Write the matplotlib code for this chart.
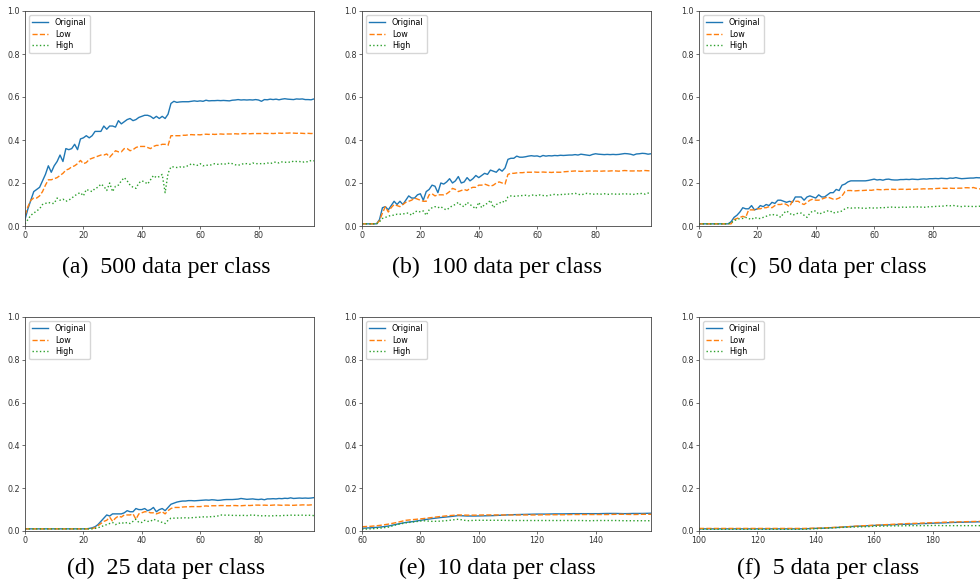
import numpy as np
import matplotlib
matplotlib.use('Agg')
import matplotlib.pyplot as plt

# series names shared by every panel
labels = ['Original', 'Low', 'High']

captions = ['(a)  500 data per class', '(b)  100 data per class', '(c)  50 data per class',
            '(d)  25 data per class', '(e)  10 data per class', '(f)  5 data per class']

# (a) 500 data per class
a_orig = [0.03, 0.08, 0.12, 0.16, 0.17, 0.18, 0.21, 0.24, 0.28, 0.25,
          0.28, 0.30, 0.33, 0.30, 0.36, 0.355, 0.36, 0.38, 0.355, 0.405,
          0.41, 0.42, 0.41, 0.42, 0.44, 0.44, 0.44, 0.465, 0.45, 0.465,
          0.465, 0.46, 0.49, 0.475, 0.485, 0.495, 0.50, 0.49, 0.495, 0.505,
          0.51, 0.515, 0.515, 0.51, 0.50, 0.51, 0.50, 0.51, 0.50, 0.52,
          0.57, 0.58, 0.575, 0.577, 0.578, 0.578, 0.578, 0.58, 0.582, 0.58,
          0.582, 0.58, 0.585, 0.582, 0.583, 0.583, 0.584, 0.583, 0.584, 0.583,
          0.582, 0.585, 0.586, 0.588, 0.586, 0.587, 0.586, 0.587, 0.586, 0.588,
          0.586, 0.58, 0.588, 0.587, 0.59, 0.588, 0.59, 0.587, 0.59, 0.592,
          0.59, 0.589, 0.588, 0.591, 0.59, 0.591, 0.588, 0.588, 0.587, 0.591]
a_low = [0.05, 0.09, 0.12, 0.13, 0.13, 0.14, 0.16, 0.19, 0.215, 0.215,
         0.22, 0.225, 0.235, 0.245, 0.26, 0.265, 0.275, 0.28, 0.29, 0.305,
         0.29, 0.295, 0.31, 0.315, 0.32, 0.325, 0.33, 0.33, 0.335, 0.32,
         0.335, 0.35, 0.345, 0.345, 0.36, 0.36, 0.35, 0.355, 0.365, 0.37,
         0.37, 0.37, 0.365, 0.36, 0.37, 0.375, 0.375, 0.38, 0.38, 0.375,
         0.42, 0.42, 0.42, 0.42, 0.422, 0.422, 0.424, 0.425, 0.424, 0.425,
         0.424, 0.426, 0.427, 0.426, 0.427, 0.426, 0.427, 0.428, 0.427, 0.428,
         0.428, 0.428, 0.429, 0.428, 0.429, 0.43, 0.43, 0.429, 0.43, 0.43,
         0.43, 0.43, 0.431, 0.43, 0.431, 0.43, 0.431, 0.432, 0.431, 0.432,
         0.432, 0.433, 0.432, 0.431, 0.432, 0.431, 0.43, 0.431, 0.43, 0.431]
a_high = [0.01, 0.03, 0.05, 0.06, 0.07, 0.08, 0.10, 0.105, 0.11, 0.105,
          0.105, 0.13, 0.12, 0.125, 0.115, 0.12, 0.13, 0.14, 0.15, 0.155,
          0.14, 0.17, 0.165, 0.16, 0.175, 0.18, 0.195, 0.185, 0.165, 0.20,
          0.16, 0.185, 0.19, 0.21, 0.225, 0.21, 0.19, 0.18, 0.175, 0.20,
          0.21, 0.205, 0.195, 0.215, 0.235, 0.225, 0.23, 0.24, 0.155, 0.245,
          0.275, 0.275, 0.272, 0.275, 0.272, 0.278, 0.28, 0.29, 0.285, 0.282,
          0.29, 0.28, 0.283, 0.282, 0.285, 0.29, 0.287, 0.288, 0.29, 0.287,
          0.293, 0.29, 0.285, 0.282, 0.287, 0.29, 0.29, 0.287, 0.293, 0.29,
          0.29, 0.29, 0.29, 0.293, 0.29, 0.295, 0.298, 0.293, 0.298, 0.296,
          0.298, 0.296, 0.302, 0.30, 0.30, 0.296, 0.30, 0.298, 0.305, 0.303]

# (b) 100 data per class
b_orig = [0.01, 0.01, 0.01, 0.01, 0.01, 0.01, 0.03, 0.085, 0.09, 0.075,
          0.095, 0.115, 0.10, 0.115, 0.10, 0.12, 0.14, 0.13, 0.13, 0.145,
          0.15, 0.12, 0.16, 0.17, 0.19, 0.185, 0.155, 0.20, 0.195, 0.205,
          0.22, 0.20, 0.21, 0.23, 0.20, 0.205, 0.225, 0.21, 0.22, 0.235,
          0.225, 0.235, 0.245, 0.24, 0.26, 0.255, 0.25, 0.265, 0.255, 0.27,
          0.31, 0.315, 0.315, 0.325, 0.32, 0.32, 0.322, 0.325, 0.327, 0.325,
          0.326, 0.322, 0.328, 0.325, 0.327, 0.326, 0.328, 0.327, 0.329, 0.328,
          0.329, 0.33, 0.33, 0.332, 0.33, 0.334, 0.332, 0.33, 0.328, 0.333,
          0.336, 0.334, 0.333, 0.332, 0.333, 0.332, 0.333, 0.332, 0.333, 0.335,
          0.337, 0.336, 0.334, 0.33, 0.335, 0.336, 0.338, 0.337, 0.334, 0.336]
b_low = [0.01, 0.01, 0.01, 0.01, 0.01, 0.01, 0.025, 0.06, 0.09, 0.065,
         0.085, 0.10, 0.095, 0.09, 0.10, 0.11, 0.115, 0.12, 0.13, 0.125,
         0.12, 0.115, 0.115, 0.145, 0.15, 0.14, 0.145, 0.145, 0.145, 0.15,
         0.16, 0.175, 0.17, 0.16, 0.165, 0.17, 0.165, 0.175, 0.18, 0.18,
         0.19, 0.19, 0.195, 0.19, 0.185, 0.19, 0.20, 0.205, 0.20, 0.195,
         0.24, 0.245, 0.245, 0.247, 0.248, 0.248, 0.25, 0.25, 0.25, 0.251,
         0.25, 0.25, 0.251, 0.25, 0.25, 0.249, 0.251, 0.25, 0.25, 0.252,
         0.253, 0.254, 0.255, 0.256, 0.255, 0.254, 0.255, 0.255, 0.256, 0.255,
         0.256, 0.255, 0.255, 0.256, 0.255, 0.256, 0.257, 0.256, 0.255, 0.257,
         0.258, 0.257, 0.256, 0.256, 0.257, 0.256, 0.257, 0.258, 0.257, 0.256]
b_high = [0.01, 0.01, 0.01, 0.01, 0.01, 0.01, 0.02, 0.035, 0.04, 0.045,
          0.05, 0.05, 0.055, 0.055, 0.055, 0.06, 0.06, 0.05, 0.065, 0.07,
          0.065, 0.07, 0.05, 0.075, 0.085, 0.09, 0.085, 0.09, 0.08, 0.075,
          0.085, 0.095, 0.10, 0.11, 0.095, 0.09, 0.11, 0.10, 0.09, 0.08,
          0.11, 0.085, 0.10, 0.105, 0.12, 0.085, 0.10, 0.105, 0.115, 0.11,
          0.135, 0.14, 0.138, 0.14, 0.14, 0.142, 0.143, 0.14, 0.143, 0.145,
          0.14, 0.145, 0.142, 0.14, 0.142, 0.145, 0.147, 0.145, 0.147, 0.145,
          0.15, 0.148, 0.15, 0.152, 0.148, 0.145, 0.148, 0.152, 0.15, 0.148,
          0.148, 0.15, 0.148, 0.15, 0.147, 0.148, 0.15, 0.148, 0.148, 0.15,
          0.148, 0.15, 0.148, 0.147, 0.15, 0.15, 0.152, 0.148, 0.153, 0.155]

# (c) 50 data per class
c_orig = [0.01, 0.01, 0.01, 0.01, 0.01, 0.01, 0.01, 0.01, 0.01, 0.01,
          0.01, 0.02, 0.04, 0.05, 0.065, 0.085, 0.08, 0.08, 0.095, 0.075,
          0.08, 0.095, 0.09, 0.10, 0.095, 0.11, 0.105, 0.12, 0.12, 0.115,
          0.11, 0.115, 0.11, 0.135, 0.135, 0.135, 0.12, 0.135, 0.14, 0.135,
          0.13, 0.145, 0.135, 0.135, 0.145, 0.155, 0.155, 0.17, 0.165, 0.19,
          0.195, 0.205, 0.21, 0.21, 0.21, 0.21, 0.21, 0.21, 0.212, 0.215,
          0.218, 0.214, 0.216, 0.213, 0.217, 0.218, 0.215, 0.214, 0.214, 0.216,
          0.216, 0.217, 0.216, 0.218, 0.217, 0.216, 0.218, 0.219, 0.218, 0.22,
          0.22, 0.221, 0.22, 0.222, 0.221, 0.22, 0.223, 0.222, 0.225, 0.222,
          0.22, 0.221, 0.222, 0.223, 0.223, 0.225, 0.224, 0.226, 0.225, 0.227]
c_low = [0.01, 0.01, 0.01, 0.01, 0.01, 0.01, 0.01, 0.01, 0.01, 0.01,
         0.01, 0.01, 0.03, 0.035, 0.04, 0.045, 0.04, 0.075, 0.075, 0.075,
         0.08, 0.08, 0.085, 0.085, 0.09, 0.085, 0.095, 0.10, 0.10, 0.105,
         0.10, 0.09, 0.115, 0.115, 0.115, 0.105, 0.10, 0.11, 0.12, 0.125,
         0.12, 0.12, 0.125, 0.13, 0.135, 0.13, 0.125, 0.125, 0.13, 0.14,
         0.16, 0.165, 0.165, 0.163, 0.164, 0.165, 0.165, 0.166, 0.167, 0.166,
         0.168, 0.17, 0.169, 0.168, 0.17, 0.17, 0.171, 0.17, 0.17, 0.171,
         0.171, 0.17, 0.171, 0.17, 0.171, 0.172, 0.172, 0.173, 0.172, 0.173,
         0.173, 0.174, 0.175, 0.176, 0.175, 0.175, 0.176, 0.175, 0.175, 0.176,
         0.176, 0.178, 0.178, 0.177, 0.179, 0.175, 0.173, 0.172, 0.178, 0.18]
c_high = [0.01, 0.01, 0.01, 0.01, 0.01, 0.01, 0.01, 0.01, 0.01, 0.01,
          0.01, 0.015, 0.025, 0.03, 0.035, 0.035, 0.04, 0.035, 0.03, 0.04,
          0.035, 0.035, 0.04, 0.045, 0.05, 0.055, 0.05, 0.05, 0.04, 0.06,
          0.07, 0.06, 0.05, 0.055, 0.06, 0.06, 0.05, 0.04, 0.06, 0.07,
          0.07, 0.055, 0.06, 0.065, 0.07, 0.07, 0.06, 0.065, 0.065, 0.07,
          0.08, 0.085, 0.083, 0.085, 0.083, 0.085, 0.083, 0.082, 0.084, 0.085,
          0.083, 0.084, 0.085, 0.085, 0.086, 0.087, 0.088, 0.087, 0.086, 0.087,
          0.088, 0.087, 0.088, 0.089, 0.088, 0.089, 0.088, 0.087, 0.088, 0.09,
          0.09, 0.091, 0.092, 0.092, 0.093, 0.095, 0.094, 0.096, 0.093, 0.092,
          0.09, 0.092, 0.091, 0.092, 0.09, 0.091, 0.092, 0.09, 0.091, 0.093]

# (d) 25 data per class
d_orig = [0.01, 0.01, 0.01, 0.01, 0.01, 0.01, 0.01, 0.01, 0.01, 0.01,
          0.01, 0.01, 0.01, 0.01, 0.01, 0.01, 0.01, 0.01, 0.01, 0.01,
          0.01, 0.01, 0.012, 0.015, 0.02, 0.03, 0.045, 0.06, 0.075, 0.07,
          0.08, 0.08, 0.08, 0.08, 0.085, 0.095, 0.09, 0.09, 0.105, 0.10,
          0.10, 0.105, 0.095, 0.10, 0.11, 0.09, 0.10, 0.105, 0.095, 0.11,
          0.125, 0.13, 0.135, 0.138, 0.14, 0.14, 0.142, 0.142, 0.141, 0.142,
          0.143, 0.144, 0.145, 0.144, 0.146, 0.145, 0.143, 0.144, 0.146, 0.147,
          0.147, 0.147, 0.148, 0.149, 0.152, 0.15, 0.148, 0.149, 0.15, 0.148,
          0.147, 0.149, 0.146, 0.15, 0.15, 0.151, 0.15, 0.152, 0.151, 0.153,
          0.152, 0.155, 0.152, 0.153, 0.154, 0.153, 0.154, 0.153, 0.154, 0.156]
d_low = [0.01, 0.01, 0.01, 0.01, 0.01, 0.01, 0.01, 0.01, 0.01, 0.01,
         0.01, 0.01, 0.01, 0.01, 0.01, 0.01, 0.01, 0.01, 0.01, 0.01,
         0.01, 0.01, 0.01, 0.012, 0.015, 0.025, 0.035, 0.045, 0.05, 0.065,
         0.045, 0.06, 0.07, 0.065, 0.075, 0.075, 0.075, 0.08, 0.055, 0.08,
         0.085, 0.09, 0.09, 0.085, 0.085, 0.08, 0.085, 0.09, 0.08, 0.095,
         0.105, 0.11, 0.11, 0.11, 0.112, 0.113, 0.113, 0.114, 0.114, 0.114,
         0.114, 0.116, 0.117, 0.116, 0.118, 0.118, 0.118, 0.119, 0.119, 0.118,
         0.118, 0.119, 0.119, 0.118, 0.118, 0.119, 0.12, 0.119, 0.12, 0.121,
         0.121, 0.12, 0.121, 0.12, 0.12, 0.121, 0.122, 0.121, 0.12, 0.121,
         0.121, 0.12, 0.12, 0.121, 0.121, 0.122, 0.122, 0.121, 0.122, 0.124]
d_high = [0.01, 0.01, 0.01, 0.01, 0.01, 0.01, 0.01, 0.01, 0.01, 0.01,
          0.01, 0.01, 0.01, 0.01, 0.01, 0.01, 0.01, 0.01, 0.01, 0.01,
          0.01, 0.01, 0.01, 0.01, 0.012, 0.015, 0.02, 0.025, 0.03, 0.035,
          0.04, 0.03, 0.035, 0.04, 0.035, 0.04, 0.035, 0.045, 0.055, 0.04,
          0.04, 0.05, 0.045, 0.045, 0.055, 0.05, 0.045, 0.04, 0.035, 0.05,
          0.06, 0.06, 0.06, 0.062, 0.06, 0.062, 0.061, 0.062, 0.063, 0.064,
          0.065, 0.066, 0.066, 0.065, 0.068, 0.068, 0.07, 0.075, 0.074, 0.074,
          0.074, 0.073, 0.073, 0.072, 0.073, 0.073, 0.072, 0.074, 0.075, 0.073,
          0.072, 0.071, 0.072, 0.07, 0.071, 0.071, 0.072, 0.071, 0.072, 0.073,
          0.073, 0.074, 0.074, 0.073, 0.074, 0.074, 0.073, 0.074, 0.073, 0.072]

# (e) 10 data per class, read every 3 epochs from 60 to 159
e_x = np.arange(60, 160, 3)
e_orig = [0.013, 0.015, 0.018, 0.023, 0.032, 0.04, 0.045, 0.052, 0.058, 0.063,
          0.067, 0.072, 0.07, 0.07, 0.071, 0.072, 0.074, 0.076, 0.077, 0.078,
          0.079, 0.079, 0.08, 0.08, 0.081, 0.081, 0.081, 0.081, 0.082, 0.082,
          0.081, 0.082, 0.082, 0.083]
e_low = [0.02, 0.022, 0.026, 0.032, 0.04, 0.05, 0.054, 0.058, 0.063, 0.068,
         0.072, 0.075, 0.074, 0.074, 0.075, 0.075, 0.075, 0.075, 0.075, 0.075,
         0.075, 0.076, 0.076, 0.076, 0.077, 0.077, 0.077, 0.077, 0.077, 0.078,
         0.078, 0.077, 0.078, 0.078]
e_high = [0.008, 0.01, 0.013, 0.018, 0.03, 0.038, 0.043, 0.048, 0.045, 0.046,
          0.05, 0.055, 0.048, 0.05, 0.05, 0.05, 0.05, 0.049, 0.049, 0.049,
          0.049, 0.049, 0.049, 0.049, 0.049, 0.049, 0.048, 0.049, 0.049, 0.049,
          0.048, 0.048, 0.048, 0.048]

# (f) 5 data per class, read every 3 epochs from 100 to 199
f_x = np.arange(100, 200, 3)
f_orig = [0.01, 0.01, 0.01, 0.01, 0.01, 0.01, 0.01, 0.01, 0.01, 0.01,
          0.01, 0.01, 0.01, 0.012, 0.013, 0.015, 0.017, 0.02, 0.022, 0.024,
          0.026, 0.028, 0.029, 0.031, 0.032, 0.034, 0.035, 0.037, 0.038, 0.04,
          0.041, 0.042, 0.043, 0.043]
f_low = [0.012, 0.012, 0.012, 0.012, 0.012, 0.012, 0.012, 0.012, 0.012, 0.012,
         0.012, 0.012, 0.012, 0.013, 0.014, 0.016, 0.018, 0.02, 0.023, 0.025,
         0.027, 0.029, 0.031, 0.033, 0.035, 0.036, 0.038, 0.039, 0.041, 0.042,
         0.043, 0.044, 0.045, 0.045]
f_high = [0.008, 0.008, 0.008, 0.008, 0.008, 0.008, 0.008, 0.008, 0.008, 0.008,
          0.008, 0.008, 0.008, 0.01, 0.012, 0.014, 0.016, 0.018, 0.019, 0.02,
          0.022, 0.023, 0.024, 0.024, 0.025, 0.025, 0.025, 0.026, 0.025, 0.025,
          0.025, 0.025, 0.025, 0.025]

x100 = np.arange(100)
panels = [
    (x100, [a_orig, a_low, a_high], (0, 99), [0, 20, 40, 60, 80]),
    (x100, [b_orig, b_low, b_high], (0, 99), [0, 20, 40, 60, 80]),
    (x100, [c_orig, c_low, c_high], (0, 99), [0, 20, 40, 60, 80]),
    (x100, [d_orig, d_low, d_high], (0, 99), [0, 20, 40, 60, 80]),
    (e_x, [e_orig, e_low, e_high], (60, 159), [60, 80, 100, 120, 140]),
    (f_x, [f_orig, f_low, f_high], (100, 199), [100, 120, 140, 160, 180]),
]

W, H = 980, 584
fig = plt.figure(figsize=(W / 100, H / 100), dpi=100)

# axes boxes in pixels: left, top, bottom
col_left = [25, 362, 699]
row_box = [(11, 226), (317, 531)]
ax_w = 289
cap_x = [166, 497, 828]
cap_y = [267, 568]

styles = ['-', '--', ':']
colors = ['C0', 'C1', 'C2']

for i, (x, series, xlim, xticks) in enumerate(panels):
    r, c = divmod(i, 3)
    top, bot = row_box[r]
    ax = fig.add_axes([col_left[c] / W, 1 - bot / H, ax_w / W, (bot - top) / H])
    for ys, lab, ls, col in zip(series, labels, styles, colors):
        ax.plot(x, ys, ls, color=col, lw=1.0, label=lab)
    ax.set_xlim(*xlim)
    ax.set_ylim(0, 1)
    ax.set_xticks(xticks)
    ax.set_yticks([0, 0.2, 0.4, 0.6, 0.8, 1.0])
    ax.tick_params(labelsize=5.8, length=2, width=0.5, pad=1.5, colors='#333333')
    for sp in ax.spines.values():
        sp.set_linewidth(0.6)
        sp.set_color('#444444')
    ax.legend(loc='upper left', fontsize=5.8, handlelength=2, borderpad=0.4,
              labelspacing=0.3, framealpha=0.8)
    fig.text(cap_x[c] / W, 1 - cap_y[r] / H, captions[i], ha='center', va='center',
             fontsize=17.2, family='Liberation Serif')

fig.savefig('out.png', dpi=100)
